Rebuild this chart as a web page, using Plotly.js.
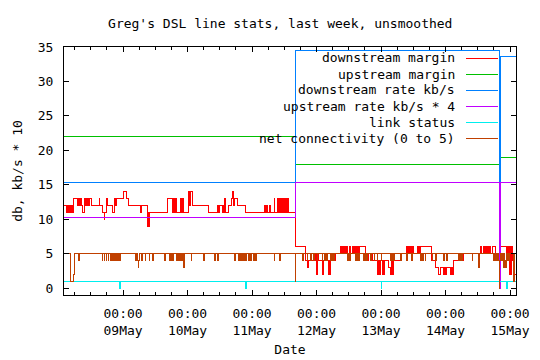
<!DOCTYPE html>
<html><head><meta charset="utf-8">
<script src="https://cdn.plot.ly/plotly-3.0.1.min.js"></script>
<style>html,body{margin:0;padding:0;background:#fff}#chart{width:540px;height:360px}
#chart svg path{shape-rendering:crispEdges}</style>
</head><body><div id="chart"></div>
<script>
// hour 0 = 08 May 00:00
const startDate = Date.UTC(2008, 4, 8);
const seriesNames = ["downstream margin", "upstream margin", "downstream rate kb/s",
  "upstream rate kb/s * 4", "link status", "net connectivity (0 to 5)"];

const dsMarginHours = [
  2.0, 3.0, 3.35, 3.7, 4.05, 4.4, 4.75, 5.1, 5.4, 5.64,
  7.13, 7.5, 7.85, 8.2, 8.55, 8.88, 9.63, 9.95, 10.3, 10.65,
  11.0, 11.35, 11.7, 12.09, 15.06, 15.33, 16.33, 16.94, 17.1, 17.93,
  18.31, 20.05, 20.8, 21.15, 21.45, 24.15, 25.38, 26.0, 30.59, 30.97,
  33.2, 33.5, 33.68, 34.0, 40.65, 42.4, 42.75, 43.1, 43.45, 43.8,
  45.49, 45.85, 46.2, 46.55, 48.2, 48.58, 49.21, 49.7, 55.65, 59.0,
  59.35, 59.7, 61.0, 61.3, 61.5, 61.87, 62.2, 63.1, 64.36, 64.6,
  65.0, 65.33, 66.45, 69.58, 76.77, 77.0, 77.3, 77.62, 78.63, 78.9,
  80.2, 80.45, 81.5, 81.85, 82.2, 82.55, 82.9, 83.25, 83.6, 83.95,
  84.3, 84.65, 85.0, 85.44, 88.05, 91.9, 92.0, 92.6, 93.0, 95.6,
  96.1, 96.4, 96.6, 98.3, 98.6, 100.3, 100.65, 100.9, 101.2, 101.55,
  101.9, 102.25, 102.6, 102.9, 103.1, 105.0, 105.35, 105.7, 106.05, 106.4,
  106.75, 107.1, 107.5, 108.3, 108.6, 109.3, 109.65, 110.0, 110.35, 110.7,
  111.05, 111.4, 111.75, 112.0, 114.3, 115.0, 115.5, 116.7, 118.6, 118.95,
  119.3, 119.6, 120.4, 120.75, 121.1, 121.4, 122.9, 123.6, 123.95, 124.3,
  124.8, 127.5, 129.6, 129.95, 130.3, 130.65, 131.0, 131.35, 131.7, 132.1,
  133.4, 133.75, 134.1, 134.45, 134.8, 138.9, 140.2, 141.4, 142.0, 143.3,
  143.65, 144.0, 144.5, 145.8, 146.15, 146.5, 147.0, 150.8, 157.0, 157.3,
  158.2, 158.55, 158.9, 159.25, 159.6, 159.95, 160.3, 160.7, 161.3, 162.6,
  163.2, 164.4, 166.5, 166.8, 167.1, 167.4, 167.7, 168.0, 168.3, 168.6,
  168.8, 169.1, 170.2];
const dsMarginValues = [
  12, 11, 12, 11, 12, 11, 12, 11, 12, 13,
  12, 13, 12, 13, 12, 11, 13, 12, 13, 12,
  13, 12, 13, 12, 13, 12, 11, 10, 11, 13,
  12, 11, 13, 12, 13, 14, 13, 12, 11, 12,
  9, 11, 9, 11, 13, 11, 13, 11, 13, 11,
  13, 11, 13, 11, 14, 12, 14, 12, 11, 12,
  11, 12, 11, 12, 11, 13, 11, 12, 13, 14,
  12, 13, 12, 11, 12, 11, 12, 11, 12, 11,
  13, 11, 13, 11, 13, 11, 13, 11, 13, 11,
  13, 11, 13, 11, 6, 5, 4, 3, 4, 5,
  2, 5, 4, 2, 4, 2, 4, 2, 5, 4,
  5, 4, 5, 4, 5, 6, 5, 6, 5, 6,
  5, 6, 5, 6, 5, 6, 5, 6, 5, 6,
  5, 6, 5, 6, 5, 4, 5, 4, 2, 4,
  2, 4, 2, 4, 2, 4, 3, 2, 4, 2,
  4, 5, 6, 5, 6, 5, 6, 5, 6, 5,
  6, 5, 6, 5, 6, 4, 3, 2, 3, 2,
  3, 2, 3, 2, 3, 2, 4, 5, 6, 5,
  6, 5, 6, 5, 6, 5, 6, 5, 6, 5,
  4, 6, 5, 6, 4, 6, 2, 6, 2, 6,
  4, 2, 2];

const usMarginHours = [2.0, 88.05, 163.9, 164.4, 170.2];
const usMarginValues = [22, 18, 0, 19, 19];

const dsRateHours = [2.0, 88.05, 163.9, 164.4, 170.2];
const dsRateValues = [15.36, 34.5, 0, 33.6, 33.6];

const usRateHours = [2.0, 88.05, 163.9, 164.4, 170.2];
const usRateValues = [10.24, 15.36, 0, 15.36, 15.36];

const linkHours = [2.0, 22.8, 23.0, 69.7, 69.9, 120.0, 120.2, 166.8, 167.0, 170.2];
const linkValues = [1, 0, 1, 0, 1, 0, 1, 0, 1, 1];

const netHours = [
  2.0, 4.5, 5.5, 5.9, 7.6, 7.9, 16.33, 16.5, 17.07, 17.25,
  17.82, 18.0, 18.56, 18.75, 19.4, 19.7, 20.0, 20.3, 20.6, 20.9,
  21.2, 21.4, 21.65, 21.95, 22.25, 22.55, 22.75, 22.9, 28.7, 29.0,
  29.3, 29.6, 29.85, 30.0, 30.1, 30.25, 30.97, 31.2, 32.2, 32.4,
  33.68, 33.9, 34.95, 35.15, 39.6, 39.8, 41.4, 41.7, 42.0, 42.3,
  42.55, 42.8, 44.0, 44.3, 44.6, 44.9, 45.2, 45.5, 45.8, 46.1,
  46.6, 46.8, 49.3, 49.5, 54.0, 54.2, 58.2, 58.4, 59.0, 59.3,
  59.45, 59.65, 65.6, 65.8, 66.8, 67.0, 67.5, 67.8, 68.1, 68.4,
  68.7, 69.0, 69.3, 69.6, 69.8, 70.0, 70.55, 70.85, 71.15, 71.45,
  71.6, 71.8, 72.7, 72.9, 73.4, 73.6, 80.2, 80.4, 82.3, 82.5,
  88.05, 88.3, 90.9, 91.1, 92.5, 92.7, 93.8, 94.0, 95.0, 95.2,
  96.2, 96.4, 98.1, 98.3, 99.1, 99.4, 99.7, 100.0, 101.2, 101.5,
  101.8, 102.1, 102.4, 102.8, 107.4, 107.7, 108.0, 108.3, 108.5, 108.7,
  110.3, 110.6, 110.9, 111.2, 111.5, 111.8, 113.6, 113.9, 114.2, 114.5,
  114.7, 114.9, 116.1, 116.3, 117.4, 117.6, 118.6, 118.8, 120.1, 120.3,
  123.6, 123.9, 124.2, 124.5, 124.7, 124.9, 127.3, 127.5, 129.6, 129.8,
  131.5, 131.7, 134.6, 134.9, 135.2, 135.5, 135.7, 135.9, 136.5, 136.7,
  139.0, 139.2, 140.2, 140.5, 140.6, 140.8, 143.3, 143.5, 144.5, 144.7,
  148.9, 149.2, 149.5, 149.8, 149.95, 150.15, 153.9, 154.1, 156.4, 156.6,
  161.9, 162.2, 162.5, 162.8, 163.1, 163.4, 163.6, 163.9, 164.2, 164.4,
  164.9, 165.2, 165.5, 165.8, 166.1, 166.4, 166.7, 167.0, 167.3, 167.6,
  167.9, 169.4, 169.6, 170.2];
const netValues = [
  5, 1, 2, 5, 4, 5, 4, 5, 4, 5,
  4, 5, 4, 5, 4, 5, 4, 5, 4, 5,
  4, 5, 4, 5, 4, 5, 4, 5, 4, 5,
  4, 3, 4, 5, 4, 5, 4, 5, 4, 5,
  4, 5, 4, 5, 4, 5, 4, 5, 4, 5,
  4, 5, 4, 5, 4, 5, 4, 5, 4, 5,
  3, 5, 4, 5, 4, 5, 4, 5, 4, 5,
  4, 5, 4, 5, 4, 5, 4, 5, 4, 5,
  4, 5, 4, 5, 4, 5, 4, 5, 4, 5,
  4, 5, 4, 5, 4, 5, 4, 5, 4, 5,
  1, 5, 4, 5, 4, 5, 4, 5, 4, 5,
  4, 5, 4, 5, 4, 5, 4, 5, 4, 5,
  4, 5, 4, 5, 4, 5, 4, 5, 4, 5,
  4, 5, 4, 5, 4, 5, 4, 5, 4, 5,
  4, 5, 4, 5, 4, 5, 4, 5, 4, 5,
  4, 5, 4, 5, 4, 5, 4, 5, 4, 5,
  4, 5, 4, 5, 4, 5, 4, 5, 4, 5,
  4, 5, 4, 5, 4, 5, 4, 5, 4, 5,
  4, 5, 4, 5, 4, 5, 4, 5, 3, 5,
  4, 5, 4, 5, 4, 5, 4, 0, 4, 5,
  4, 5, 3, 5, 4, 3, 5, 4, 5, 4,
  5, 1, 5, 5];

const colors = ["#ff0000", "#00c000", "#0080ff", "#c000ff", "#00eeee", "#c04000"];
const FONT = "DejaVu Sans Mono, Liberation Mono, monospace";
const HOUR = 3600000;
const toDates = hs => hs.map(h => startDate + h * HOUR);

const seriesData = [
  [dsMarginHours, dsMarginValues],
  [usMarginHours, usMarginValues],
  [dsRateHours, dsRateValues],
  [usRateHours, usRateValues],
  [linkHours, linkValues],
  [netHours, netValues]
];

const traces = seriesData.map((s, i) => ({
  type: "scatter", mode: "lines",
  x: toDates(s[0]), y: s[1], name: seriesNames[i],
  line: {shape: "hv", color: colors[i], width: 1},
  hoverinfo: "skip"
}));

// gnuplot-style key: text right-aligned, sample line to the right
const plotW = 540 - 64 - 24, plotH = 360 - 47 - 65;
const annotations = [], shapes = [];
seriesNames.forEach((n, i) => {
  const yp = 1 - (11 + 16 * i) / plotH;
  annotations.push({xref: "paper", yref: "paper", x: 391.5 / plotW, y: yp,
    xanchor: "right", yanchor: "middle", text: n, showarrow: false, borderpad: 0,
    font: {family: FONT, size: 13, color: "#000"}});
  shapes.push({type: "line", xref: "paper", yref: "paper",
    x0: 401.7 / plotW, x1: 434 / plotW, y0: yp, y1: yp,
    line: {color: colors[i], width: 1}});
});

const axisCommon = {
  showline: true, linecolor: "#000", linewidth: 1, mirror: "allticks",
  ticks: "inside", ticklen: 5, tickcolor: "#000", tickwidth: 1,
  showgrid: false, zeroline: false,
  tickfont: {family: FONT, size: 13, color: "#000"}
};

const layout = {
  width: 540, height: 360,
  margin: {l: 64, r: 24, t: 47, b: 65, pad: 0},
  paper_bgcolor: "#fff", plot_bgcolor: "#fff",
  showlegend: false,
  font: {family: FONT, size: 13, color: "#000"},
  title: {text: "Greg's DSL line stats, last week, unsmoothed",
    font: {family: FONT, size: 13, color: "#000"},
    x: 0.519, xref: "container", xanchor: "center",
    y: 1 - 23.3 / 360, yref: "container", yanchor: "middle"},
  xaxis: Object.assign({}, axisCommon, {
    type: "date",
    range: [startDate + 2.03 * HOUR, startDate + 170.2 * HOUR],
    tick0: Date.UTC(2008, 4, 9), dtick: 24 * HOUR,
    tickformat: "%H:%M<br>%d%b",
    ticklabelstandoff: 6,
    minor: {dtick: 6 * HOUR, ticks: "inside", ticklen: 3, tickcolor: "#000", showgrid: false},
    title: {text: "Date", font: {family: FONT, size: 13, color: "#000"}, standoff: 8}
  }),
  yaxis: Object.assign({}, axisCommon, {
    range: [-1, 35], tick0: 0, dtick: 5,
    ticklabelstandoff: 7,
    title: {text: "db, kb/s * 10", font: {family: FONT, size: 13, color: "#000"}, standoff: 12}
  }),
  annotations: annotations,
  shapes: shapes
};

Plotly.newPlot("chart", traces, layout, {displayModeBar: false, staticPlot: true});
</script>
</body></html>
